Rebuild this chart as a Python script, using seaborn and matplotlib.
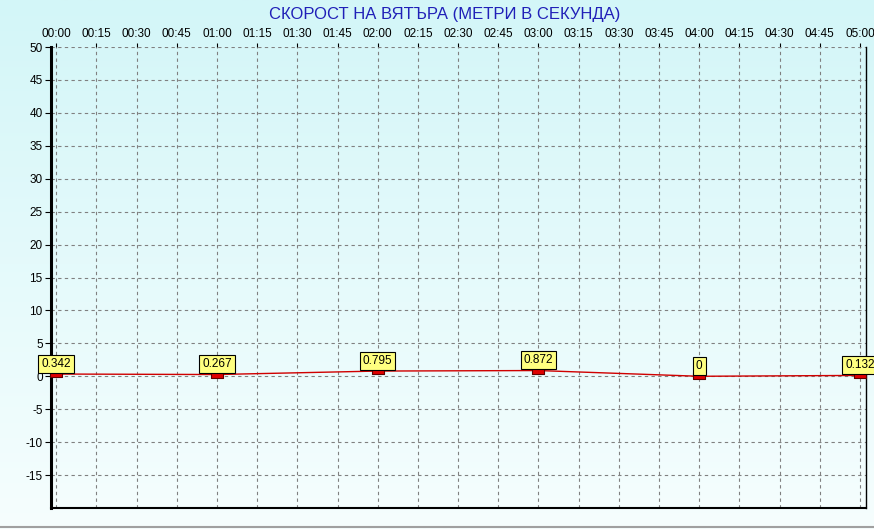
import numpy as np
import pandas as pd
import matplotlib
matplotlib.use('Agg')
import matplotlib.pyplot as plt
import seaborn as sns
from matplotlib.colors import LinearSegmentedColormap

# data
hours = [0, 1, 2, 3, 4, 5]
wind_speed = [0.342, 0.267, 0.795, 0.872, 0, 0.132]
point_labels = ['0.342', '0.267', '0.795', '0.872', '0', '0.132']
x_tick_labels = ['00:00', '00:15', '00:30', '00:45', '01:00', '01:15', '01:30',
                 '01:45', '02:00', '02:15', '02:30', '02:45', '03:00', '03:15',
                 '03:30', '03:45', '04:00', '04:15', '04:30', '04:45', '05:00']
y_ticks = [-15, -10, -5, 0, 5, 10, 15, 20, 25, 30, 35, 40, 45, 50]

df = pd.DataFrame({'hour': hours, 'speed': wind_speed})

sns.set_style('white')
plt.rcParams['font.family'] = ['Liberation Sans', 'DejaVu Sans']
plt.rcParams['axes.unicode_minus'] = False

fig = plt.figure(figsize=(8.74, 5.29), dpi=100)

# background gradient over the whole figure
bg = fig.add_axes([0, 0, 1, 1], zorder=-5)
grad = np.linspace(0, 1, 256).reshape(-1, 1)
cmap = LinearSegmentedColormap.from_list('bg', ['#d3f6f8', '#f6fefe'])
bg.imshow(grad, aspect='auto', cmap=cmap, extent=[0, 1, 0, 1])
bg.axhline(0.003, color='#a0a0a0', lw=1.5)
bg.set_xlim(0, 1)
bg.set_ylim(0, 1)
bg.axis('off')

ax = fig.add_axes([51 / 874, 1 - 508 / 529, 815 / 874, 461 / 529])
ax.patch.set_alpha(0)

sns.lineplot(data=df, x='hour', y='speed', ax=ax, color='#d00000', lw=1, zorder=3)
rect = [(-1, -0.55), (1, -0.55), (1, 0.55), (-1, 0.55), (-1, -0.55)]
ax.plot(df['hour'], df['speed'], ls='none', marker=rect, ms=9,
        mfc='#e00000', mec='#600000', mew=0.8, zorder=4, clip_on=False)

for h, v, lab in zip(hours, wind_speed, point_labels):
    ax.annotate(lab, (h, v), xytext=(0, 3), textcoords='offset points',
                ha='center', va='bottom', fontsize=8.5, color='black', zorder=5,
                annotation_clip=False,
                bbox=dict(boxstyle='square,pad=0.25', fc='#ffff80', ec='black', lw=0.8))

ax.set_xlim(-0.032, 5.037)
ax.set_ylim(-20, 50)
ax.set_xticks(np.arange(len(x_tick_labels)) * 0.25)
ax.set_xticklabels(x_tick_labels)
ax.set_yticks(y_ticks)
ax.xaxis.tick_top()
ax.tick_params(axis='x', labelsize=8.5, length=3, pad=2, colors='black', top=True, bottom=False)
ax.tick_params(axis='y', labelsize=8.5, length=4, pad=2, colors='black', left=True)
ax.set_xlabel('')
ax.set_ylabel('')

ax.grid(True, color='#808080', linestyle=(0, (3, 3)), lw=0.8)
ax.spines['top'].set_visible(False)
ax.spines['left'].set_linewidth(2.2)
ax.spines['bottom'].set_linewidth(1.5)
ax.spines['right'].set_linewidth(1)
for s in ['left', 'bottom', 'right']:
    ax.spines[s].set_color('black')

fig.text(445 / 874, 1 - 15 / 529, 'СКОРОСТ НА ВЯТЪРА (МЕТРИ В СЕКУНДА)',
         ha='center', va='center', fontsize=12, color='#2020b8')

fig.savefig('out.png', dpi=100)
